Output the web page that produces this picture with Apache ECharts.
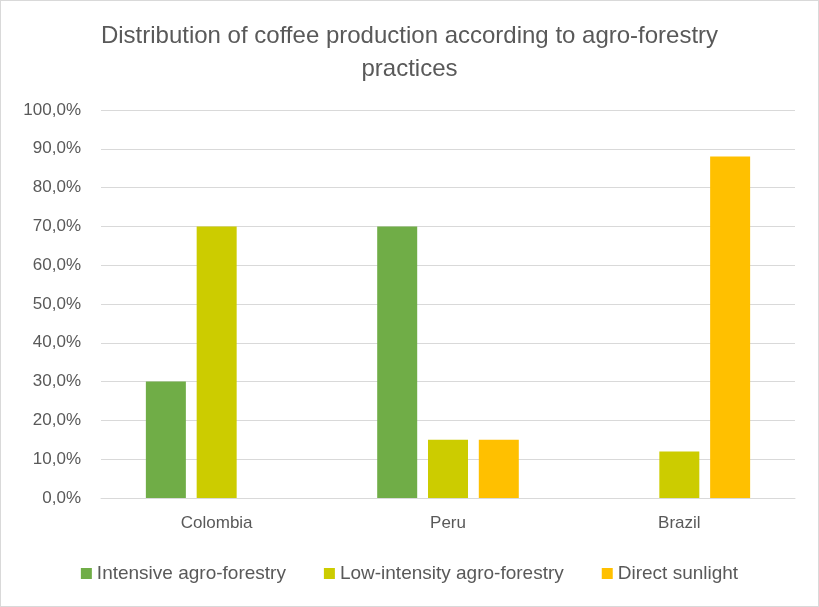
<!DOCTYPE html>
<html><head><meta charset="utf-8">
<script src="https://cdn.jsdelivr.net/npm/echarts@6/dist/echarts.min.js"></script>
<style>html,body{margin:0;padding:0;background:#fff}#c{width:817px;height:605px;border:1px solid #d9d9d9}</style>
</head><body><div id="c"></div>
<script>
var categories = ['Colombia', 'Peru', 'Brazil'];
var seriesNames = ['Intensive agro-forestry', 'Low-intensity agro-forestry', 'Direct sunlight'];
var intensive = [30, 70, 0];
var lowIntensity = [70, 15, 12];
var directSun = [0, 15, 88];
var colors = ['#70AD47', '#CCCC00', '#FFC000'];
var FONT = 'Liberation Sans, sans-serif';
var chart = echarts.init(document.getElementById('c'));
var vals = [intensive, lowIntensity, directSun];
chart.setOption({
  animation: false,
  textStyle: {fontFamily: FONT},
  title: {text: 'Distribution of coffee production according to agro-forestry\npractices', left: 'center', top: 14,
    textStyle: {fontFamily: FONT, fontSize: 24, fontWeight: 'normal', color: '#595959', lineHeight: 33}},
  legend: {bottom: 18, left: 'center', itemWidth: 11, itemHeight: 11, itemGap: 38, icon: 'rect',
    textStyle: {fontFamily: FONT, fontSize: 19, color: '#595959'}},
  grid: {left: 100, right: 23, top: 109, bottom: 108},
  xAxis: {type: 'category', data: categories, axisTick: {show: false},
    axisLine: {lineStyle: {color: '#d9d9d9', width: 1}},
    axisLabel: {fontFamily: FONT, fontSize: 17, color: '#595959', margin: 17}},
  yAxis: {type: 'value', min: 0, max: 100, interval: 10,
    axisLine: {show: false}, axisTick: {show: false},
    splitLine: {lineStyle: {color: '#d9d9d9', width: 1}},
    axisLabel: {fontFamily: FONT, fontSize: 17, color: '#595959', margin: 20,
      formatter: function(v){return v.toFixed(1).replace('.', ',') + '%';}}},
  series: seriesNames.map(function(n, i){
    return {name: n, type: 'bar', data: vals[i], barWidth: 40, barGap: '27%',
      itemStyle: {color: colors[i]}};
  })
});
</script></body></html>
